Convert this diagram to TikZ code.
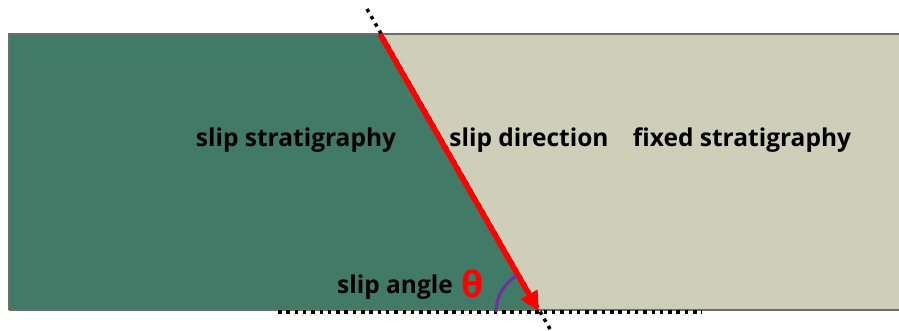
\documentclass[tikz,border=0pt]{standalone}
\usepackage{fontspec}
\setmainfont{Open Sans}
\usetikzlibrary{arrows.meta, calc}
\definecolor{slipgreen}{HTML}{417A66}
\definecolor{fixedbeige}{HTML}{CFCEB8}
\definecolor{edgegray}{HTML}{6B7066}
\definecolor{arrowred}{HTML}{FF0000}
\definecolor{anglepurple}{HTML}{7030A0}

\begin{document}
\begin{tikzpicture}[
  x=1pt, y=-1pt,
  lbl/.style={font=\fontsize{24.5}{28}\selectfont\bfseries, text=black, inner sep=0pt},
  faultdots/.style={line width=3.5pt, dash pattern=on 3.5pt off 4.8pt},
  sliparr/.style={-{Triangle[length=20pt, width=18pt]}, line width=5.5pt, color=arrowred, shorten >=-2pt},
]
\useasboundingbox (0,0) rectangle (899,331);
% blocks
\coordinate (ftop) at (380,34);
\coordinate (fbot) at (538,310);
\fill[slipgreen] (9,34) -- (ftop) -- (fbot) -- (9,310) -- cycle;
\fill[fixedbeige] (ftop) -- (899,34) -- (899,310) -- (fbot) -- cycle;
\draw[edgegray, line width=1.5pt] (9,310) -- (9,34) -- (899,34);
\draw[edgegray, line width=1.5pt] (9,310) -- (899,310);
% dotted reference lines
\coordinate (dtop) at (367,9);
\coordinate (dbot) at (550,329);
\coordinate (bl) at (278,312);
\coordinate (br) at (702,312);
\draw[faultdots] (dtop) -- (dbot);
\draw[faultdots] (bl) -- (br);
% slip direction
\draw[sliparr] (ftop) -- (fbot);
% angle
\draw[anglepurple, line width=3pt] ($(fbot)+(-42,2)$) arc[start angle=180, end angle=240, radius=42];
\node[lbl] (slipstrat)  at (296,140) {slip stratigraphy};
\node[lbl] (slipdir)    at (529,140) {slip direction};
\node[lbl] (fixedstrat) at (742,140) {fixed stratigraphy};
\node[lbl] (slipangle)  at (395,287) {slip angle};
\node[lbl, font=\fontsize{36}{38}\selectfont\bfseries, text=arrowred] (theta) at (473,284) {θ};
\end{tikzpicture}
\end{document}
